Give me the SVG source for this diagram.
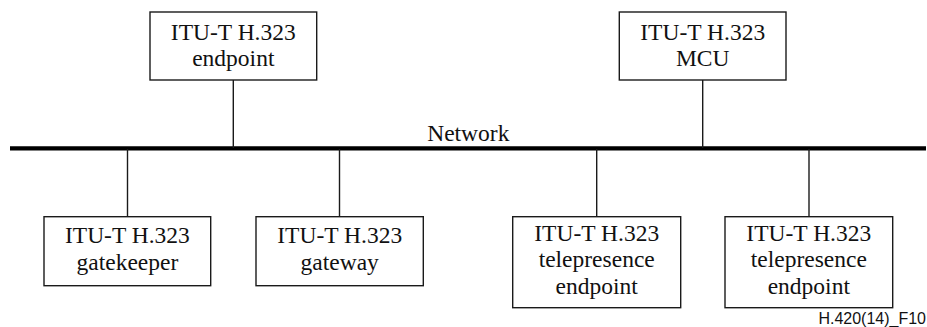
<svg xmlns="http://www.w3.org/2000/svg" width="927" height="327" viewBox="0 0 927 327">
  <style>
    .box { fill: #ffffff; stroke: #1a1a1a; stroke-width: 1.4; }
    .lbl { font-family: 'Liberation Serif', 'Times New Roman', serif; font-size: 23.5px; fill: #111111; text-anchor: middle; }
    .link { stroke: #1a1a1a; stroke-width: 1.4; fill: none; }
    .bus { stroke: #000000; stroke-width: 4.4; fill: none; }
    .tag { font-family: 'Liberation Sans', Arial, sans-serif; font-size: 16px; fill: #111111; text-anchor: end; }
  </style>
  <rect width="927" height="327" fill="#ffffff"/>

  <!-- network bus and drops to each device -->
  <g id="connectors">
    <line class="bus" x1="10" y1="148.4" x2="926" y2="148.4"/>
    <line class="link" x1="233.3" y1="80" x2="233.3" y2="148"/>
    <line class="link" x1="702.7" y1="80" x2="702.7" y2="148"/>
    <line class="link" x1="127.5" y1="149" x2="127.5" y2="216.7"/>
    <line class="link" x1="339.5" y1="149" x2="339.5" y2="216.7"/>
    <line class="link" x1="596.7" y1="149" x2="596.7" y2="216.7"/>
    <line class="link" x1="809" y1="149" x2="809" y2="216.7"/>
  </g>

  <g id="network-label">
    <text class="lbl" x="468.3" y="141">Network</text>
  </g>

  <g id="endpoint">
    <rect class="box" x="150" y="12" width="166.7" height="68"/>
    <text class="lbl" x="233.3" y="39.5">ITU-T H.323</text>
    <text class="lbl" x="233.3" y="66">endpoint</text>
  </g>

  <g id="mcu">
    <rect class="box" x="619.3" y="12" width="166.7" height="68"/>
    <text class="lbl" x="702.7" y="39.5">ITU-T H.323</text>
    <text class="lbl" x="702.7" y="66">MCU</text>
  </g>

  <g id="gatekeeper">
    <rect class="box" x="44" y="216.7" width="166.7" height="69"/>
    <text class="lbl" x="127.4" y="243.3">ITU-T H.323</text>
    <text class="lbl" x="127.4" y="270">gatekeeper</text>
  </g>

  <g id="gateway">
    <rect class="box" x="256" y="216.7" width="167.3" height="69"/>
    <text class="lbl" x="339.7" y="243.3">ITU-T H.323</text>
    <text class="lbl" x="339.7" y="270">gateway</text>
  </g>

  <g id="telepresence-1">
    <rect class="box" x="512.7" y="216.7" width="168" height="91"/>
    <text class="lbl" x="596.7" y="241">ITU-T H.323</text>
    <text class="lbl" x="596.7" y="267.3">telepresence</text>
    <text class="lbl" x="596.7" y="294">endpoint</text>
  </g>

  <g id="telepresence-2">
    <rect class="box" x="725" y="216.7" width="167.7" height="91"/>
    <text class="lbl" x="808.8" y="241">ITU-T H.323</text>
    <text class="lbl" x="808.8" y="267.3">telepresence</text>
    <text class="lbl" x="808.8" y="294">endpoint</text>
  </g>

  <text class="tag" x="926" y="324">H.420(14)_F10</text>
</svg>
